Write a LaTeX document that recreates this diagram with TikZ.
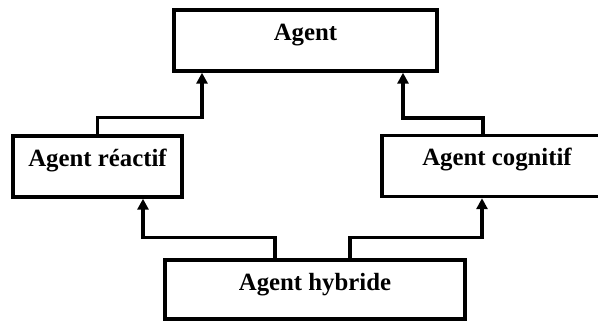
\documentclass[tikz,border=0pt]{standalone}
\usepackage{fontspec}
\setmainfont{Liberation Serif}
\usetikzlibrary{arrows.meta,calc}
\tikzset{
    agentbox/.style = {
        draw,
        line width=1.7pt,
        inner sep=0pt,
        text height=15pt,
        text depth=15.5pt,
        minimum height=30.5pt,
        font=\fontsize{12.4}{14}\selectfont\bfseries,
        },
    link/.style = {
        line width=1.7pt,
        },
    arrowlink/.style = {
        link,
        -{Triangle[length=5.5pt,width=5.5pt]},
        },
}
\begin{document}
\begin{tikzpicture}[x=0.5pt,y=-0.5pt]
    \useasboundingbox (0,0) rectangle (598,321);
    \clip (0,0) rectangle (598,321);

    % Boxes
    \node [agentbox, minimum width=131.5pt] (agent) at (305.5,40.5) {Agent};
    \node [agentbox, minimum width=84.5pt] (reactif) at (97.5,166.5) {Agent réactif};
    \node [agentbox, minimum width=115pt] (cognitif) at (497,166) {Agent cognitif};
    \node [agentbox, minimum width=150pt, minimum height=29.5pt, text depth=14.5pt] (hybride) at (315,289.5) {Agent hybride};

    % Upper links
    \draw[arrowlink] (reactif.north) -- ++(0,-17) -| ([xshift=-51.75pt]agent.south);
    \draw[arrowlink] ([xshift=-7pt]cognitif.north) -- ++(0,-16) -| ([xshift=48.75pt]agent.south);

    % Lower links
    \draw[arrowlink] ([xshift=-20pt]hybride.north) -- ++(0,-21) -| ([xshift=22.75pt]reactif.south);
    \draw[arrowlink] ([xshift=17.5pt]hybride.north) -- ++(0,-21) -| ([xshift=-7.5pt]cognitif.south);
\end{tikzpicture}
\end{document}
